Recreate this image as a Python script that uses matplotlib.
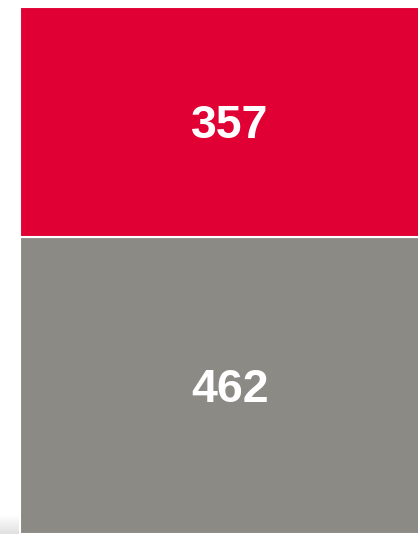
import numpy as np
import matplotlib
matplotlib.use('Agg')
import matplotlib.pyplot as plt

categories = ['bottom', 'top']
values = [462, 357]
colors = ['#8c8a85', '#e00034']

fig = plt.figure(figsize=(4.18, 5.34), dpi=100)
fig.patch.set_facecolor('white')

# bar runs a bit past the right edge of the picture
ax = fig.add_axes([20/418, 0, 420/418, 527/534])
bottom = 0
for cat, v, c in zip(categories, values, colors):
    ax.bar(0, v, bottom=bottom, width=1, color=c, edgecolor='white', linewidth=1.5)
    ax.text(0, bottom + v/2 - 7, str(v), ha='center', va='center', color='white',
            fontsize=33.5, fontweight='bold', family=['Liberation Sans', 'DejaVu Sans'])
    bottom += v
ax.set_xlim(-0.5, 0.5)
ax.set_ylim(0, sum(values))
ax.axis('off')

# faint shadow in the lower left corner
sh = fig.add_axes([0, 0, 19/418, 20/534])
grad = np.linspace(1, 0.88, 20).reshape(-1, 1)
sh.imshow(grad, cmap='gray', vmin=0, vmax=1, aspect='auto', origin='upper')
sh.axis('off')

fig.savefig('out.png', dpi=100)
